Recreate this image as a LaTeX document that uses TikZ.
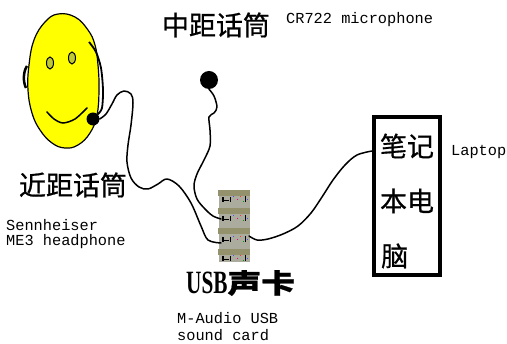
\documentclass[tikz,border=0pt]{standalone}
\usepackage{fontspec}
\setmonofont{Liberation Mono}
\newfontfamily\cjk[FakeBold=0.7]{Noto Sans CJK SC}
\newfontfamily\usbfont{Liberation Serif}
\definecolor{faceyellow}{RGB}{255,255,0}
\definecolor{eyefill}{RGB}{190,200,50}
\definecolor{cardbase}{RGB}{172,172,158}
\definecolor{cardband}{RGB}{148,146,108}
\begin{document}
\begin{tikzpicture}[x=1pt,y=-1pt,
  wire/.style={line width=1.5pt, line join=round, line cap=round},
  cjklabel/.style={font=\cjk\fontsize{27}{27}\selectfont, inner sep=0},
  monolabel/.style={font=\ttfamily\fontsize{15.3}{17}\selectfont, inner sep=0, anchor=west},
  micball/.style={circle, fill=black, inner sep=0},
]
\useasboundingbox[fill=white] (0,0) rectangle (507,344);

% ---- smiling head with headset ----
\draw[line width=1.2pt, fill=faceyellow] plot[smooth cycle, tension=0.7] coordinates {
  (45,22) (58,14) (75,17) (88,30) (95,45) (98,65) (99,90) (97,115)
  (90,133) (78,145) (65,148) (52,143) (40,130) (32,113) (28,90) (29,65) (34,40)};
\draw[line width=1pt, fill=eyefill] (50,63) ellipse [x radius=3.5, y radius=6];
\draw[line width=1pt, fill=eyefill] (72,58) ellipse [x radius=3.5, y radius=6];
\draw[line width=1.5pt, line cap=round] plot[smooth] coordinates {(47,112) (54,119) (63,123) (75,119) (87,108)};
\draw[line width=2.5pt] (27,66) .. controls (23,72) and (23,82) .. (26,88);
\node[micball, minimum size=13] (headmic) at (93,119) {};
\draw[line width=1.8pt] plot[smooth] coordinates {(89,42) (96,52) (101,68) (103,90) (102,108) (headmic.north east)};

% ---- stand microphone ----
\node[micball, minimum size=18] (midmic) at (209,80) {};

% ---- sound card ----
\node[fill=cardbase, minimum width=31, minimum height=72, inner sep=0] (card) at (234,226) {};
\foreach \yy in {190,208,228,249}
  \fill[cardband] (card.west |- 0,\yy) rectangle (card.east |- 0,\yy+6);
\foreach \yy in {199,218,239,258} {
  \fill[black] (222,\yy-2) rectangle (224,\yy+3);
  \fill[black] (224,\yy+1) rectangle (229,\yy+2);
  \fill[black] (230,\yy-2) rectangle (231,\yy+3);
  \fill[blue!70] (233,\yy-3) rectangle (234,\yy-2);
  \fill[magenta] (237,\yy) rectangle (238,\yy+1);
  \fill[red!80] (240,\yy-3) rectangle (241,\yy-2);
  \fill[green!60!black] (243,\yy+2) rectangle (244,\yy+3);
  \fill[black] (245,\yy-3) rectangle (246,\yy+3);
  \fill[blue!70] (247,\yy) rectangle (248,\yy+1);
}
\coordinate (jackmid) at (221,219);
\coordinate (jackhead) at (221,243);
\coordinate (jackout) at (249,236);

% ---- laptop ----
\node[draw, line width=4pt, minimum width=66, minimum height=158, inner sep=0] (laptop) at (407,196) {};
\node[cjklabel] (lt1) at (407,146) {笔记};
\node[cjklabel] (lt2) at (407,201) {本电};
\node[cjklabel, anchor=west] (lt3) at (381,256) {脑};

% ---- cables ----
\draw[wire] plot[smooth, tension=0.55] coordinates {(headmic.east) (106,114) (112,104) (117,95)
  (124,91) (131,94) (133,103) (131,125) (128,145) (127,162) (131,178) (139,187) (148,189)
  (158,184) (167,179) (179,186) (191,203) (201,226) (208,240) (jackhead)};
\draw[wire] plot[smooth, tension=0.55] coordinates {(midmic.south) (214,96) (217,107) (214,113)
  (209,117) (210,130) (210,146) (204,160) (197,174) (194,186) (197,199) (205,209) (213,216) (jackmid)};
\draw[wire] plot[smooth, tension=0.55] coordinates {(jackout) (257,240) (268,239) (283,234)
  (298,226) (311,213) (322,197) (333,180) (345,165) (357,155) (laptop.west |- 0,151)};

% ---- labels ----
\node[cjklabel] (titlemid) at (216,25) {中距话筒};
\node[monolabel] (cr722) at (286,20) {CR722 microphone};
\node[cjklabel] (titlenear) at (73,185) {近距话筒};
\node[monolabel] (senn1) at (6,225) {Sennheiser};
\node[monolabel] (senn2) at (6,242) {ME3 headphone};
\node[cjklabel, anchor=west] (titlecard) at (186,283)
  {\usbfont\fontsize{25}{25}\selectfont\bfseries\scalebox{0.85}[1.3]{USB}\cjk\fontsize{27}{27}\selectfont\scalebox{1.25}[1]{声卡}};
\node[monolabel] (maudio1) at (177,318) {M-Audio USB};
\node[monolabel] (maudio2) at (177,335) {sound card};
\node[monolabel] (laptoplabel) at (451,152) {Laptop};
\end{tikzpicture}
\end{document}
